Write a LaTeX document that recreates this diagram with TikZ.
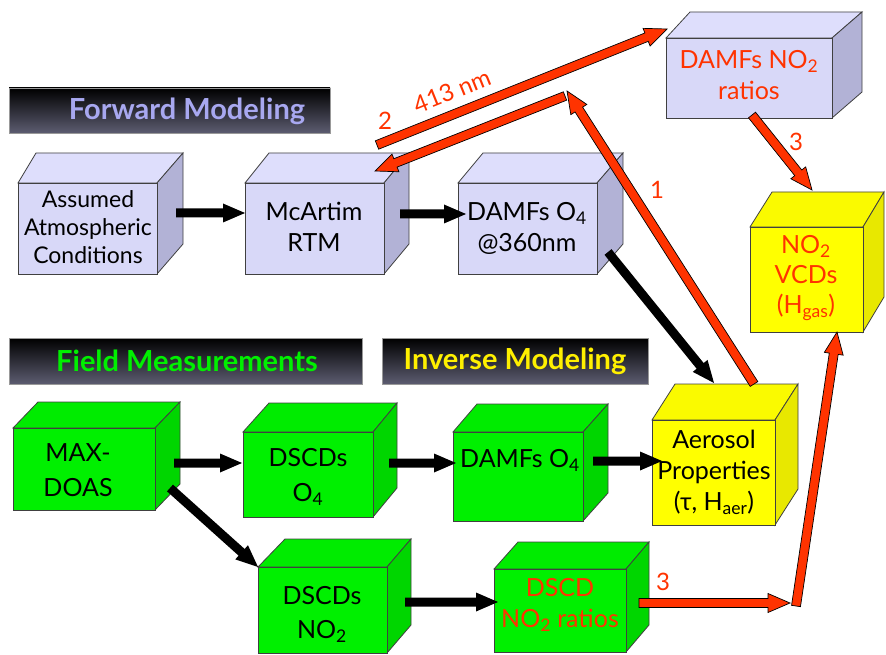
\documentclass[tikz,border=0pt]{standalone}
\usepackage{fontspec}
\setmainfont{Lato}
\usetikzlibrary{calc}

% face colours
\definecolor{lavfront}{RGB}{216,216,248}
\definecolor{lavtop}{RGB}{222,222,252}
\definecolor{lavside}{RGB}{178,178,214}
\definecolor{grnfront}{RGB}{0,240,0}
\definecolor{grntop}{RGB}{0,236,0}
\definecolor{grnside}{RGB}{0,214,0}
\definecolor{ylwfront}{RGB}{255,255,0}
\definecolor{ylwtop}{RGB}{250,250,0}
\definecolor{ylwside}{RGB}{232,232,0}
\definecolor{flowred}{RGB}{255,51,0}
\definecolor{barbottom}{RGB}{92,92,112}
\definecolor{fwdtext}{RGB}{168,168,240}
\definecolor{fldtext}{RGB}{0,240,0}
\definecolor{invtext}{RGB}{255,240,0}

\tikzset{
  cubeline/.style={draw=black!75, line width=0.8pt},
  cubetext/.style={align=center, inner sep=0pt, font=\fontsize{25}{31}\selectfont},
  redtext/.style={text=flowred},
  bararrow/.style={fill=black, draw=none},
  redarrow/.style={fill=flowred, draw=black, line width=0.7pt, line join=miter},
  headbar/.style={top color=black, bottom color=barbottom, draw=black!40, line width=0.6pt},
  headtext/.style={font=\fontsize{29}{32}\selectfont\bfseries, inner sep=0pt},
  steplabel/.style={text=flowred, font=\fontsize{24}{28}\selectfont, inner sep=0pt},
}

% box in oblique view: front (x1,y1)-(x2,y2), top-back offsets dl/dr, depth d, palette
\newcommand\cubebox[8]{%
  \filldraw[cubeline, fill=#8top] (#1,#2) -- (#1+#5,#2-#7) -- (#3+#6,#2-#7) -- (#3,#2) -- cycle;
  \filldraw[cubeline, fill=#8side] (#3,#2) -- (#3+#6,#2-#7) -- (#3+#6,#4-#7) -- (#3,#4) -- cycle;
  \filldraw[cubeline, fill=#8front] (#1,#2) rectangle (#3,#4);
}

% block arrow from #2 to tip #3
\newcommand\blockarrow[3]{%
  \coordinate (hb) at ($(#3)!22pt!(#2)$);
  \filldraw[#1] ($(#2)!4.5pt!90:(#3)$) -- ($(hb)!4.5pt!90:(#3)$) -- ($(hb)!9.5pt!90:(#3)$)
    -- (#3) -- ($(hb)!9.5pt!-90:(#3)$) -- ($(hb)!4.5pt!-90:(#3)$) -- ($(#2)!4.5pt!-90:(#3)$) -- cycle;
}

\begin{document}
\begin{tikzpicture}[x=1pt, y=-1pt]
\useasboundingbox (0,0) rectangle (886,655);

% section headings
\shade[headbar] (9,88) rectangle (330,133);
\node[headtext, text=fwdtext] (hfwd) at (187,111) {Forward Modeling};
\shade[headbar] (9,338) rectangle (362,384);
\node[headtext, text=fldtext] (hfld) at (187,361) {Field Measurements};
\shade[headbar] (382,338) rectangle (648,384);
\node[headtext, text=invtext] (hinv) at (515,361) {Inverse Modeling};

% forward modeling boxes
\cubebox{18}{183}{157}{274}{18}{26}{30}{lav}
\node[cubetext, font=\fontsize{23}{28}\selectfont] (assumed) at (88,227) {Assumed\\Atmospheric\\Conditions};
\cubebox{245}{183}{384}{274}{24}{25}{30}{lav}
\node[cubetext] (rtm) at (314,227) {McArtim\\RTM};
\cubebox{458}{183}{597}{274}{25}{26}{30}{lav}
\node[cubetext] (damfo4) at (527,228) {DAMFs O\textsubscript{4}\\@360nm};
\cubebox{666}{38}{832}{118}{24}{30}{26}{lav}
\node[cubetext, redtext] (damfno2) at (749,75) {DAMFs NO\textsubscript{2}\\ratios};
\cubebox{750}{227}{863}{332}{22}{21}{35}{ylw}
\node[cubetext, redtext, font=\fontsize{25}{30}\selectfont] (vcd) at (806,278) {NO\textsubscript{2}\\VCDs\\(H\textsubscript{gas})};

% measurement and inversion boxes
\cubebox{13}{428}{155}{510}{25}{25}{26}{grn}
\node[cubetext, font=\fontsize{25}{35}\selectfont] (maxdoas) at (78,470) {MAX-\\DOAS};
\cubebox{243}{432}{373}{517}{26}{24}{29}{grn}
\node[cubetext, font=\fontsize{25}{35}\selectfont] (dscdo4) at (308,477) {DSCDs\\O\textsubscript{4}};
\cubebox{453}{432}{583}{521}{24}{25}{28}{grn}
\node[cubetext] (damfo4g) at (520,460) {DAMFs O\textsubscript{4}};
\cubebox{652}{420}{775}{525}{23}{23}{36}{ylw}
\node[cubetext, font=\fontsize{25}{31}\selectfont] (aerosol) at (714,472) {Aerosol\\Properties\\(τ, H\textsubscript{aer})};
\cubebox{258}{567}{387}{653}{27}{24}{28}{grn}
\node[cubetext, font=\fontsize{25}{34}\selectfont] (dscdno2) at (322,614) {DSCDs\\NO\textsubscript{2}};
\cubebox{494}{569}{626}{652}{24}{23}{27}{grn}
\node[cubetext, redtext, font=\fontsize{25}{31}\selectfont] (ratios) at (560,605) {DSCD\\NO\textsubscript{2} ratios};

% connector end points
\coordinate (a1s) at (176,213); \coordinate (a1e) at (245,213);
\coordinate (a2s) at (400,214); \coordinate (a2e) at (466,214);
\coordinate (a3s) at (608,252); \coordinate (a3e) at (714,383);
\coordinate (g1s) at (174,463); \coordinate (g1e) at (242,463);
\coordinate (g2s) at (389,463); \coordinate (g2e) at (456,463);
\coordinate (g3s) at (593,461); \coordinate (g3e) at (662,461);
\coordinate (g4s) at (170,488); \coordinate (g4e) at (258,567);
\coordinate (g5s) at (405,602); \coordinate (g5e) at (498,602);
\coordinate (r1s) at (754,384); \coordinate (r1e) at (567,91);
\coordinate (r2s) at (565,96);  \coordinate (r2e) at (375,171);
\coordinate (r3s) at (377,145); \coordinate (r3e) at (667,29);
\coordinate (r4s) at (752,115); \coordinate (r4e) at (812,190);
\coordinate (r5s) at (639,603); \coordinate (r5e) at (790,603);
\coordinate (r6s) at (796,606); \coordinate (r6e) at (837,332);

% black flow arrows
\blockarrow{bararrow}{a1s}{a1e}
\blockarrow{bararrow}{a2s}{a2e}
\blockarrow{bararrow}{a3s}{a3e}
\blockarrow{bararrow}{g1s}{g1e}
\blockarrow{bararrow}{g2s}{g2e}
\blockarrow{bararrow}{g3s}{g3e}
\blockarrow{bararrow}{g4s}{g4e}
\blockarrow{bararrow}{g5s}{g5e}

% red retrieval arrows
\blockarrow{redarrow}{r1s}{r1e}
\blockarrow{redarrow}{r2s}{r2e}
\blockarrow{redarrow}{r3s}{r3e}
\blockarrow{redarrow}{r4s}{r4e}
\blockarrow{redarrow}{r5s}{r5e}
\blockarrow{redarrow}{r6s}{r6e}

% step labels
\node[steplabel] (l1) at (657,190) {1};
\node[steplabel] (l2) at (385,121) {2};
\node[steplabel, rotate=22] (lnm) at (452,91) {413 nm};
\node[steplabel] (l3a) at (796,142) {3};
\node[steplabel] (l3b) at (663,582) {3};
\end{tikzpicture}
\end{document}
